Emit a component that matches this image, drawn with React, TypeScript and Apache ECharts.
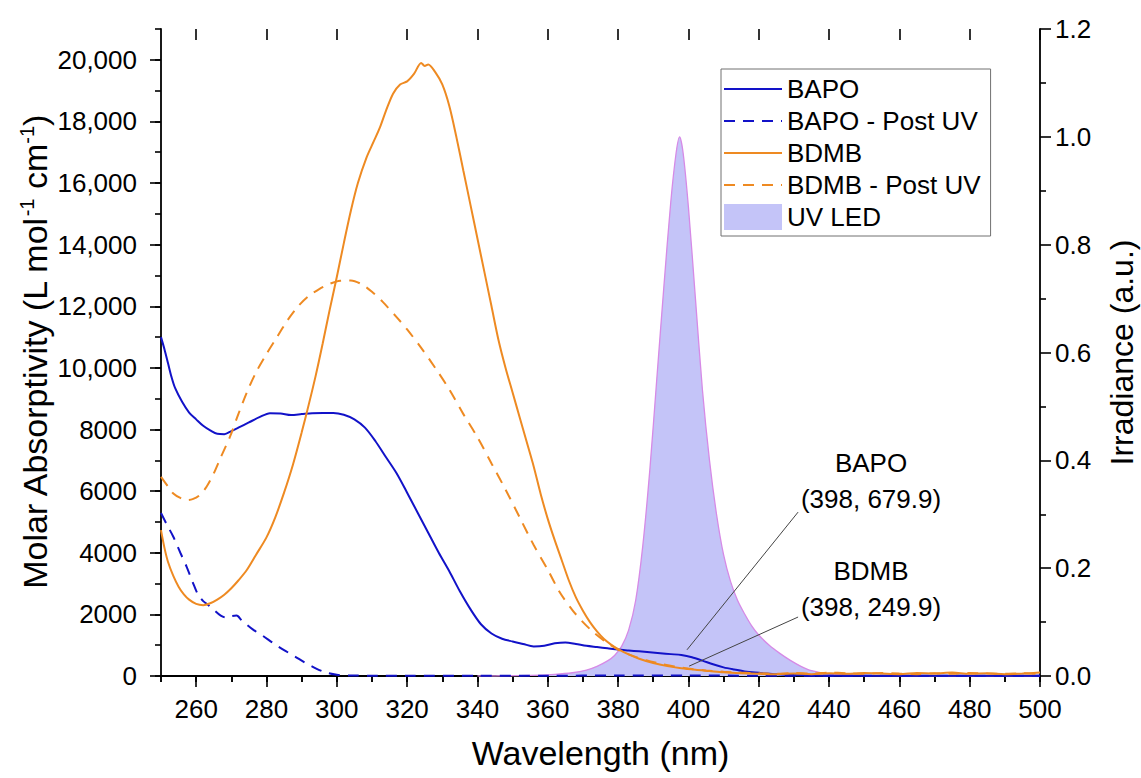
import React, { useEffect, useRef } from 'react';
import * as echarts from 'echarts';

const FONT = '"Liberation Sans", Arial, Helvetica, sans-serif';

// ---- data ----
const bapoWl = [250, 251, 252, 253, 254, 256, 258, 260, 262, 264, 266, 268, 270, 272, 275, 278, 281, 284, 287, 290, 293, 296, 299, 302, 305, 308, 311, 314, 317, 320, 323, 326, 329, 332, 335, 338, 341, 344, 347, 350, 353, 356, 359, 362, 365, 368, 371, 374, 377, 380, 383, 386, 389, 392, 395, 398, 401, 404, 407, 410, 413, 416, 419, 422, 425, 430, 435, 440, 450, 460, 470, 480, 490, 500];
const bapo = [11000, 10600, 10150, 9700, 9350, 8900, 8550, 8330, 8120, 7970, 7860, 7850, 7950, 8060, 8230, 8400, 8530, 8520, 8470, 8500, 8530, 8540, 8540, 8480, 8330, 8060, 7620, 7100, 6580, 5950, 5300, 4650, 4000, 3400, 2750, 2170, 1680, 1380, 1210, 1120, 1040, 960, 980, 1060, 1090, 1040, 980, 940, 900, 860, 830, 800, 770, 740, 710, 680, 610, 500, 380, 280, 210, 150, 110, 80, 55, 30, 15, 8, 5, 10, 5, 8, 5, 10];

const bapoPostWl = [250, 251.5, 253.5, 255.5, 257.3, 259, 260.5, 262, 263.5, 265, 267, 268.7, 270, 271.5, 273, 276, 279, 282, 285, 288, 291, 294, 297, 300, 305, 310, 320, 340, 360, 380, 400, 420, 440, 460, 480, 500];
const bapoPost = [5290, 4950, 4520, 4000, 3545, 3050, 2650, 2430, 2300, 2150, 1960, 1890, 1940, 1960, 1800, 1520, 1300, 1060, 840, 640, 430, 250, 110, 40, 15, 10, 5, 10, 5, 20, 15, 10, 5, 10, 5, 10];

const bdmbWl = [250, 251, 252, 253.5, 255, 256.5, 258, 260, 262, 264, 266, 268, 270, 272, 274.4, 277, 280, 282.5, 285, 287.5, 290, 292, 294, 296, 298, 300, 302, 304, 306, 308.5, 310.5, 312.3, 314, 316, 318, 320, 322, 324, 325, 326, 328, 330, 332, 334, 336, 338, 340, 342, 344, 346, 348, 350, 352, 354, 356, 358, 360, 362, 364, 366, 368, 370, 372, 374, 376, 378, 380, 383, 386, 390, 394, 398, 402, 406, 410, 415, 420, 425, 430, 435, 440, 445, 450, 455, 460, 465, 470, 475, 480, 485, 490, 495, 500];
const bdmb = [4735, 4150, 3700, 3250, 2900, 2650, 2480, 2340, 2300, 2360, 2480, 2640, 2850, 3100, 3440, 3930, 4500, 5150, 5950, 6850, 7900, 8800, 9750, 10800, 11900, 12950, 14050, 15100, 16000, 16840, 17350, 17815, 18350, 18900, 19200, 19300, 19550, 19900, 19800, 19850, 19600, 19200, 18500, 17500, 16400, 15300, 14200, 13100, 12000, 10900, 10000, 9200, 8400, 7600, 6800, 5900, 5100, 4400, 3750, 3100, 2550, 2120, 1750, 1450, 1200, 1020, 870, 700, 560, 420, 320, 250, 200, 160, 120, 90, 70, 60, 80, 60, 90, 70, 100, 80, 60, 100, 80, 110, 70, 90, 60, 80, 110];

const bdmbPostWl = [250, 252, 253.5, 255.5, 257.3, 259, 261, 263, 265, 267, 269.6, 272, 274.4, 277, 280, 283, 286, 289, 292, 295, 298, 301, 304, 307, 310, 313, 317, 320, 324, 328, 332, 336, 340, 344, 348, 352, 356, 360, 363.5, 367, 370, 373, 376, 380, 384, 388, 392, 396, 400, 405, 410, 415, 420, 425, 430, 435, 440, 445, 450, 455, 460, 465, 470, 475, 480, 485, 490, 495, 500];
const bdmbPost = [6465, 6150, 5925, 5780, 5710, 5740, 5870, 6150, 6575, 7100, 7760, 8500, 9200, 9850, 10450, 11000, 11550, 12000, 12330, 12560, 12730, 12830, 12840, 12720, 12470, 12150, 11650, 11250, 10650, 10000, 9300, 8500, 7750, 6900, 6050, 5150, 4250, 3450, 2700, 2140, 1750, 1420, 1150, 860, 660, 510, 400, 310, 240, 180, 140, 110, 90, 70, 100, 80, 110, 90, 70, 100, 80, 60, 90, 70, 100, 80, 70, 90, 60];

const uvWl = [340, 355, 362, 367, 371, 374, 377, 379, 381, 383, 385, 387, 389, 391, 393, 395, 396.5, 397.5, 398.5, 400, 402, 404, 406, 408, 410, 412, 414, 416, 418, 420, 423, 426, 429, 432, 435, 440, 450, 470, 500];
const uv = [0, 0.001, 0.003, 0.006, 0.011, 0.018, 0.028, 0.038, 0.055, 0.085, 0.14, 0.24, 0.38, 0.55, 0.72, 0.88, 0.97, 1.0, 0.97, 0.87, 0.7, 0.53, 0.4, 0.3, 0.225, 0.175, 0.14, 0.115, 0.093, 0.076, 0.057, 0.042, 0.029, 0.018, 0.01, 0.004, 0.001, 0, 0];

const legendNames = ['BAPO', 'BAPO - Post UV', 'BDMB', 'BDMB - Post UV', 'UV LED'];

// annotation leader lines (data coordinates)
const bapoLeader = [[399.6, 850], [431.2, 5320]];
const bdmbLeader = [[400.2, 320], [431.2, 1914]];

const BLUE = '#1212c8';
const ORANGE = '#ee8a22';

const zip = (xs: number[], ys: number[]) => xs.map((x, i) => [x, ys[i]]);
const commas = (v: number) => (v >= 10000 ? String(v).replace(/\B(?=(\d{3})+(?!\d))/g, ',') : String(v));

// layout
const GL = 161, GR = 101, GT = 29, GB = 102;
const PX_PER_NM = (1141 - GL - GR) / 250;
const PX_PER_UNIT = (778 - GT - GB) / 21000;
const XOFF = 10 * PX_PER_NM;
const YOFF = 1000 * PX_PER_UNIT;

const axisLineStyle = { show: true, lineStyle: { color: '#000', width: 1.8 } };
const tickStyle = { color: '#000', width: 1.6 };
const labelStyle = { color: '#000', fontSize: 26, fontFamily: FONT };

function buildOption() {
  const lineSeries = (name: string, wl: number[], vals: number[], color: string, dashed: boolean, leader?: number[][]) => ({
    name,
    type: 'line',
    xAxisIndex: 0,
    yAxisIndex: 0,
    data: zip(wl, vals),
    smooth: 0.3,
    symbol: 'none',
    lineStyle: { color, width: 2, type: dashed ? [11, 8] : 'solid' },
    itemStyle: { color },
    z: 3,
    markLine: leader
      ? {
          silent: true,
          symbol: ['none', 'none'],
          label: { show: false },
          lineStyle: { color: '#444', width: 1, type: 'solid' },
          data: [[{ coord: leader[0] }, { coord: leader[1] }]],
        }
      : undefined,
  });

  return {
    animation: false,
    backgroundColor: '#fff',
    textStyle: { fontFamily: FONT },
    grid: [
      { left: GL, right: GR, top: GT, bottom: GB, outerBoundsMode: 'none', containLabel: false },
      { left: GL + XOFF, right: GR, top: GT + YOFF, bottom: GB, outerBoundsMode: 'none', containLabel: false },
    ],
    legend: {
      data: legendNames.map((n) =>
        n === 'UV LED'
          ? { name: n, icon: 'rect', itemStyle: { color: '#c4c4f8', borderWidth: 0 } }
          : { name: n, itemStyle: { opacity: 0 } }
      ),
      orient: 'vertical',
      left: 721,
      top: 69,
      padding: [7, 10, 6, 2],
      itemWidth: 58,
      itemHeight: 26,
      itemGap: 6,
      borderColor: '#707070',
      borderWidth: 1,
      selectedMode: false,
      textStyle: { color: '#000', fontSize: 26, fontFamily: FONT },
    },
    xAxis: [
      {
        gridIndex: 0, type: 'value', position: 'bottom', min: 250, max: 500, interval: 10,
        axisLine: axisLineStyle, axisTick: { show: true, length: 6, lineStyle: tickStyle },
        axisLabel: { show: false }, splitLine: { show: false },
        name: 'Wavelength (nm)', nameLocation: 'middle', nameGap: 60,
        nameTextStyle: { color: '#000', fontSize: 34, fontFamily: FONT },
      },
      {
        gridIndex: 0, type: 'value', position: 'top', min: 250, max: 500, interval: 10,
        axisLine: axisLineStyle, axisTick: { show: true, inside: true, length: 6, lineStyle: tickStyle },
        axisLabel: { show: false }, splitLine: { show: false },
      },
      {
        gridIndex: 1, type: 'value', position: 'bottom', min: 260, max: 500, interval: 20,
        axisLine: { show: false }, axisTick: { show: true, length: 11, lineStyle: tickStyle },
        axisLabel: { ...labelStyle, margin: 20 }, splitLine: { show: false },
      },
      {
        gridIndex: 1, type: 'value', position: 'top', offset: YOFF, min: 260, max: 500, interval: 20,
        axisLine: { show: false }, axisTick: { show: true, inside: true, length: 11, lineStyle: tickStyle },
        axisLabel: { show: false }, splitLine: { show: false },
      },
    ],
    yAxis: [
      {
        gridIndex: 0, type: 'value', position: 'left', min: 0, max: 21000, interval: 1000,
        axisLine: axisLineStyle, axisTick: { show: true, length: 6, lineStyle: tickStyle },
        axisLabel: { show: false }, splitLine: { show: false },
        name: '{a|Molar Absorptivity (L mol}{s|-1}{a| cm}{s|-1}{a|)}',
        nameLocation: 'middle', nameGap: 108, nameRotate: 90,
        nameTextStyle: {
          color: '#000', fontFamily: FONT,
          rich: {
            a: { fontSize: 34, fontFamily: FONT, color: '#000', lineHeight: 36 },
            s: { fontSize: 20, fontFamily: FONT, color: '#000', verticalAlign: 'top', lineHeight: 24 },
          },
        },
      },
      {
        gridIndex: 0, type: 'value', position: 'right', min: 0, max: 1.2, interval: 0.2,
        axisLine: axisLineStyle, axisTick: { show: true, length: 11, lineStyle: tickStyle },
        minorTick: { show: true, splitNumber: 2, length: 6, lineStyle: tickStyle },
        axisLabel: { ...labelStyle, margin: 15, formatter: (v: number) => v.toFixed(1) },
        splitLine: { show: false },
        name: 'Irradiance (a.u.)', nameLocation: 'middle', nameGap: 66, nameRotate: 90,
        nameTextStyle: { color: '#000', fontSize: 32, fontFamily: FONT, lineHeight: 32 },
      },
      {
        gridIndex: 1, type: 'value', position: 'left', offset: XOFF, min: 0, max: 20000, interval: 2000,
        axisLine: { show: false }, axisTick: { show: true, length: 11, lineStyle: tickStyle },
        axisLabel: { ...labelStyle, margin: 24, formatter: (v: number) => commas(v) },
        splitLine: { show: false },
      },
    ],
    series: [
      {
        name: 'UV LED', type: 'line', xAxisIndex: 0, yAxisIndex: 1,
        data: zip(uvWl, uv), smooth: 0.3, symbol: 'none',
        lineStyle: { color: '#d68ae6', width: 1.3 },
        itemStyle: { color: '#c4c4f8' },
        areaStyle: { color: '#c4c4f8', opacity: 1 },
        z: 1,
      },
      lineSeries('BAPO', bapoWl, bapo, BLUE, false, bapoLeader),
      lineSeries('BAPO - Post UV', bapoPostWl, bapoPost, BLUE, true),
      lineSeries('BDMB', bdmbWl, bdmb, ORANGE, false, bdmbLeader),
      lineSeries('BDMB - Post UV', bdmbPostWl, bdmbPost, ORANGE, true),
    ],
    graphic: [
      { type: 'text', x: 871, y: 463, style: { text: 'BAPO', fontSize: 26, fontFamily: FONT, fill: '#000', align: 'center', verticalAlign: 'middle' } },
      { type: 'text', x: 871, y: 499, style: { text: '(398, 679.9)', fontSize: 26, fontFamily: FONT, fill: '#000', align: 'center', verticalAlign: 'middle' } },
      { type: 'text', x: 871, y: 571, style: { text: 'BDMB', fontSize: 26, fontFamily: FONT, fill: '#000', align: 'center', verticalAlign: 'middle' } },
      { type: 'text', x: 871, y: 607, style: { text: '(398, 249.9)', fontSize: 26, fontFamily: FONT, fill: '#000', align: 'center', verticalAlign: 'middle' } },
    ],
  };
}

export default function App() {
  const ref = useRef<HTMLDivElement>(null);
  useEffect(() => {
    document.body.style.margin = '0';
    if (!ref.current) return;
    const chart = echarts.init(ref.current, null, { renderer: 'svg' });
    chart.setOption(buildOption() as any);
    return () => chart.dispose();
  }, []);
  return <div ref={ref} style={{ width: 1141, height: 778 }} />;
}
